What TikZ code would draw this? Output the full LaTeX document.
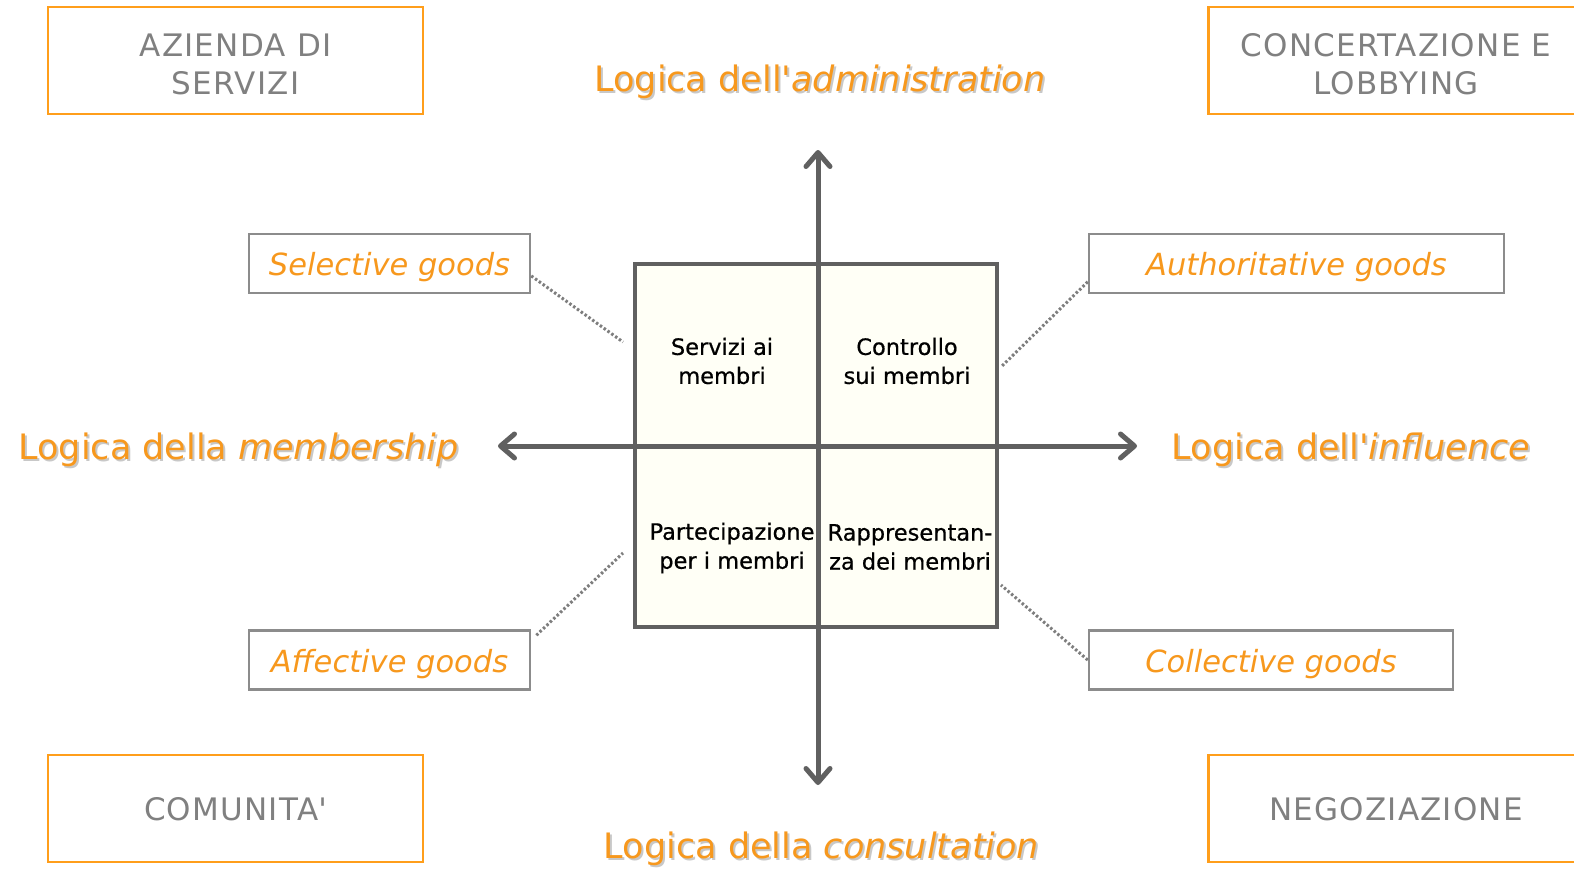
\documentclass[tikz,border=0pt]{standalone}
\usepackage{fontspec}
\setmainfont{DejaVu Sans}
\newfontfamily\cornerfont{DejaVu Sans}[LetterSpace=4]
\newfontfamily\quadfont{DejaVu Sans}[FakeBold=0.6]
\usetikzlibrary{arrows.meta}
\definecolor{orangetxt}{HTML}{F7981D}
\definecolor{orangebox}{HTML}{FF9E1B}
\definecolor{cornergray}{HTML}{808080}
\definecolor{goodsgray}{HTML}{8C8C8C}
\definecolor{axisgray}{HTML}{606060}
\definecolor{shadowgray}{HTML}{C8C8C8}
\definecolor{quadfill}{RGB}{255,255,246}
\tikzset{
  cornerbox/.style={draw=orangebox, line width=2.5pt, fill=white, minimum width=375pt, minimum height=107pt, inner sep=0pt, align=center, text=cornergray, font=\cornerfont\fontsize{31}{38}\selectfont},
  goodsbox/.style={draw=goodsgray, line width=2.5pt, fill=white, minimum height=59pt, inner sep=0pt, text height=31pt, text depth=7pt, text=orangetxt, font=\fontsize{30.5}{34}\selectfont\itshape},
  axislabel/.style={text=orangetxt, inner sep=0pt, font=\fontsize{35}{40}\selectfont},
  axisshadow/.style={text=shadowgray, inner sep=0pt, font=\fontsize{35}{40}\selectfont},
  quadtext/.style={text=black, align=center, inner sep=0pt, font=\quadfont\fontsize{22.5}{29}\selectfont},
  axisline/.style={draw=axisgray, line width=5pt, line cap=round, {Straight Barb[length=14pt,width=24pt,line cap=round,line join=round]}-{Straight Barb[length=14pt,width=24pt,line cap=round,line join=round]}},
  dotline/.style={draw=goodsgray!90!black, line width=3pt, dash pattern={on 2.5pt off 2.2pt}}
}
\begin{document}
\begin{tikzpicture}[x=1pt,y=-1pt]
\clip (0,0) rectangle (1574,871);
\fill[white] (0,0) rectangle (1574,871);

% central square
\node[draw=axisgray, line width=4pt, fill=quadfill, minimum width=362pt, minimum height=363pt, inner sep=0pt] (sq) at (816,445.5) {};

% axes
\coordinate (vt) at (818,150);
\coordinate (vb) at (818,785);
\coordinate (hl) at (498,446);
\coordinate (hr) at (1137,446);
\draw[axisline] (vb) -- (vt);
\draw[axisline] (hl) -- (hr);

% quadrant texts
\node[quadtext] (q1) at (722,361) {Servizi ai\\membri};
\node[quadtext] (q2) at (907,361) {Controllo\\sui membri};
\node[quadtext] (q3) at (732,548) {Partecipazione\\per i membri};
\node[quadtext] (q4) at (910,547) {Rappresentan-\\za dei membri};

% corner boxes
\node[cornerbox] (tl) at (235.5,60.5) {\rule{0pt}{30pt}AZIENDA DI\\SERVIZI};
\node[cornerbox] (tr) at (1396,60.5) {\rule{0pt}{30pt}CONCERTAZIONE E\\LOBBYING};
\node[cornerbox, text height=31pt, text depth=7pt] (bl) at (235.5,808.5) {COMUNITA{\itshape\textquotesingle}};
\node[cornerbox, text height=31pt, text depth=7pt] (br) at (1396,808.5) {NEGOZIAZIONE};

% goods boxes
\node[goodsbox, minimum width=281pt] (sel) at (389.5,263.5) {Selective goods};
\node[goodsbox, minimum width=415pt] (auth) at (1296.5,263.5) {Authoritative goods};
\node[goodsbox, minimum width=281pt] (aff) at (389.5,660) {Affective goods};
\node[goodsbox, minimum width=364pt] (coll) at (1271,660) {Collective goods};

% dotted connectors
\coordinate (selEnd) at (623,342);
\coordinate (authEnd) at (1001,367);
\coordinate (affEnd) at (623,553);
\coordinate (collEnd) at (1001,585);
\draw[dotline] (sel.-5) -- (selEnd);
\draw[dotline] (auth.185) -- (authEnd);
\draw[dotline, shorten <=7pt] (aff.8) -- (affEnd);
\draw[dotline] (coll.west) -- (collEnd);

% axis labels with shadow
\node[axisshadow] (admS) at (822,84) {Logica dell{\itshape\textquotesingle administration}};
\node[axislabel] (adm) at (820,82) {Logica dell{\itshape\textquotesingle administration}};
\node[axisshadow] (memS) at (240.5,452) {Logica della \textit{membership}};
\node[axislabel] (mem) at (238.5,450) {Logica della \textit{membership}};
\node[axisshadow] (infS) at (1353,452) {Logica dell{\itshape\textquotesingle influence}};
\node[axislabel] (inf) at (1351,450) {Logica dell{\itshape\textquotesingle influence}};
\node[axisshadow] (conS) at (823.5,851) {Logica della \textit{consultation}};
\node[axislabel] (con) at (821.5,849) {Logica della \textit{consultation}};
\end{tikzpicture}
\end{document}
